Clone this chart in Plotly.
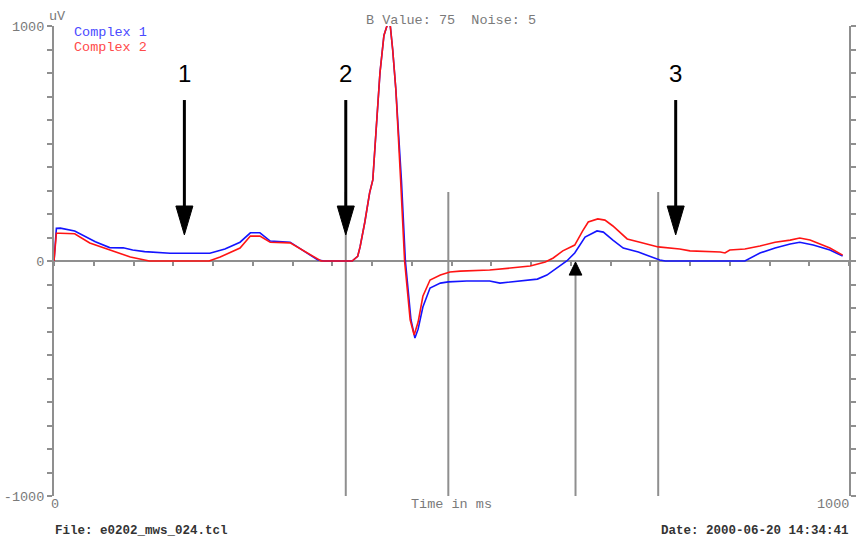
import plotly.graph_objects as go

# ---- averaged complexes (time in ms, amplitude in uV) ----
time_complex1 = [0, 3, 8, 26, 52, 70, 87, 99, 114, 146,
                 196, 215, 234, 247, 259, 272, 297, 309, 332, 340,
                 375, 382, 385, 391, 397, 401, 405, 410, 415, 419,
                 420, 423, 426, 430, 434, 437, 442, 449, 454, 458,
                 464, 473, 486, 496, 519, 548, 561, 586, 608, 620,
                 633, 645, 655, 668, 683, 691, 703, 716, 735, 750,
                 762, 769, 869, 888, 907, 926, 938, 955, 976, 992]
uv_complex1 = [0, 139, 140, 128, 82, 57, 56, 47, 40, 33,
               33, 51, 80, 120, 120, 85, 80, 55, 4, 0,
               0, 20, 60, 166, 290, 345, 550, 800, 960, 1005,
               1013, 1000, 900, 730, 500, 345, 0, -250, -328, -290,
               -196, -115, -94, -89, -85, -85, -94, -85, -77, -60,
               -30, 0, 34, 102, 128, 123, 89, 55, 38, 21,
               4, 0, 0, 34, 55, 72, 80, 68, 47, 21]

time_complex2 = [0, 3, 8, 26, 45, 70, 96, 114, 120, 195,
                 209, 234, 247, 259, 272, 297, 323, 336, 375, 382,
                 385, 391, 397, 401, 405, 410, 415, 419, 420, 423,
                 426, 430, 434, 436, 441, 448, 453, 458, 464, 473,
                 486, 498, 511, 548, 574, 599, 618, 628, 640, 655,
                 665, 672, 684, 693, 703, 721, 737, 760, 787, 800,
                 838, 844, 850, 869, 888, 907, 926, 938, 951, 964,
                 976, 992]
uv_complex2 = [0, 118, 118, 116, 77, 47, 17, 4, 0, 0,
               17, 55, 106, 106, 80, 77, 25, 0, 0, 20,
               60, 166, 290, 345, 550, 800, 960, 1005, 1013, 1000,
               900, 730, 500, 345, 0, -250, -315, -260, -150, -81,
               -60, -47, -43, -38, -30, -21, -4, 13, 43, 68,
               128, 166, 179, 174, 149, 94, 80, 60, 51, 43,
               38, 34, 47, 51, 64, 80, 89, 98, 89, 72,
               55, 25]

# cursor lines (ms) and labelled event arrows (ms)
cursor_ms = [367, 496, 760]
onset_cursor_ms = 656
event_arrow_ms = [164, 367, 782]
event_labels = ["1", "2", "3"]

y_ticks = list(range(-1000, 1001, 100))
y_tick_text = [str(v) if v in (-1000, 0, 1000) else "" for v in y_ticks]

W, H = 866, 539
L, R, T, B = 54, 17, 26, 43
PW, PH = W - L - R, H - T - B

MONO = "Liberation Mono, Courier New, monospace"
AXIS_GREY = "#8f8f8f"


def px_x(p):
    return (p - L) / PW


def px_y(p):
    return (H - B - p) / PH


fig = go.Figure()
fig.add_trace(go.Scatter(x=time_complex1, y=uv_complex1, mode="lines",
                         line=dict(color="#1414ff", width=1.6),
                         name="Complex 1", showlegend=False))
fig.add_trace(go.Scatter(x=time_complex2, y=uv_complex2, mode="lines",
                         line=dict(color="#ff1414", width=1.6),
                         name="Complex 2", showlegend=False))

shapes = []
for xm in cursor_ms:
    shapes.append(dict(type="line", xref="x", yref="y", x0=xm, x1=xm,
                       y0=-1000, y1=294, layer="below",
                       line=dict(color=AXIS_GREY, width=2)))
shapes.append(dict(type="line", xref="x", yref="y", x0=onset_cursor_ms,
                   x1=onset_cursor_ms, y0=-1000, y1=-60, layer="below",
                   line=dict(color=AXIS_GREY, width=2)))

# down arrows with numbered labels
head_half = 10.7   # ms
for xm in event_arrow_ms:
    shapes.append(dict(type="line", xref="x", yref="y", x0=xm, x1=xm,
                       y0=685, y1=230, layer="above",
                       line=dict(color="black", width=3)))
    shapes.append(dict(type="path", xref="x", yref="y", layer="above",
                       path=f"M {xm - head_half},234 L {xm + head_half},234 L {xm},111 Z",
                       fillcolor="black", line=dict(color="black", width=1)))

# small upward arrow at the onset cursor
shapes.append(dict(type="path", xref="x", yref="y", layer="above",
                   path=f"M {onset_cursor_ms - 8},-60 L {onset_cursor_ms + 8},-60 L {onset_cursor_ms},-4 Z",
                   fillcolor="black", line=dict(color="black", width=1)))

annotations = []
for xm, lab in zip(event_arrow_ms, event_labels):
    annotations.append(dict(x=xm, y=px_y(73), xref="x", yref="paper", text=lab,
                            showarrow=False, xanchor="center", yanchor="middle",
                            font=dict(family="Liberation Sans, Arial", size=24, color="black")))

annotations += [
    dict(x=px_x(72), y=px_y(32), xref="paper", yref="paper", text="Complex 1",
         showarrow=False, xanchor="left", yanchor="middle",
         font=dict(family=MONO, size=13.5, color="#4a4aff")),
    dict(x=px_x(72), y=px_y(48), xref="paper", yref="paper", text="Complex 2",
         showarrow=False, xanchor="left", yanchor="middle",
         font=dict(family=MONO, size=13.5, color="#ff4a4a")),
    dict(x=px_x(451), y=px_y(20), xref="paper", yref="paper",
         text="B Value: 75\u00a0\u00a0Noise: 5",
         showarrow=False, xanchor="center", yanchor="middle",
         font=dict(family=MONO, size=13.5, color="#7a7a7a")),
    dict(x=px_x(47), y=px_y(16), xref="paper", yref="paper", text="uV",
         showarrow=False, xanchor="left", yanchor="middle",
         font=dict(family=MONO, size=13.5, color="#7a7a7a")),
    dict(x=px_x(55), y=px_y(504), xref="paper", yref="paper", text="0",
         showarrow=False, xanchor="center", yanchor="middle",
         font=dict(family=MONO, size=13.5, color="#7a7a7a")),
    dict(x=px_x(451), y=px_y(504), xref="paper", yref="paper", text="Time in ms",
         showarrow=False, xanchor="center", yanchor="middle",
         font=dict(family=MONO, size=13.5, color="#7a7a7a")),
    dict(x=px_x(851), y=px_y(504), xref="paper", yref="paper", text="1000",
         showarrow=False, xanchor="right", yanchor="middle",
         font=dict(family=MONO, size=13.5, color="#7a7a7a")),
    dict(x=px_x(53), y=px_y(531), xref="paper", yref="paper",
         text="<b>File: e0202_mws_024.tcl</b>",
         showarrow=False, xanchor="left", yanchor="middle",
         font=dict(family=MONO, size=12.5, color="#333333")),
    dict(x=px_x(851), y=px_y(531), xref="paper", yref="paper",
         text="<b>Date: 2000-06-20 14:34:41</b>",
         showarrow=False, xanchor="right", yanchor="middle",
         font=dict(family=MONO, size=12.5, color="#333333")),
]

fig.update_layout(
    width=W, height=H,
    margin=dict(l=L, r=R, t=T, b=B, pad=0, autoexpand=False),
    paper_bgcolor="white", plot_bgcolor="white",
    showlegend=False,
    shapes=shapes, annotations=annotations,
    xaxis=dict(range=[0, 1000], anchor="free", position=0.5, automargin=False,
               showline=True, linecolor=AXIS_GREY, linewidth=2,
               ticks="outside", ticklen=4, tickwidth=1.5, tickcolor=AXIS_GREY,
               dtick=50, tick0=0, showticklabels=False,
               showgrid=False, zeroline=False, layer="below traces"),
    yaxis=dict(range=[-1000, 1000], showline=True, linecolor=AXIS_GREY,
               linewidth=2, mirror="ticks", automargin=False,
               ticks="outside", ticklen=5, tickwidth=1.5, tickcolor=AXIS_GREY,
               tickvals=y_ticks, ticktext=y_tick_text,
               tickfont=dict(family=MONO, size=13.5, color="#7a7a7a"),
               showgrid=False, zeroline=False, layer="below traces"),
)

fig.write_html("out.html")
